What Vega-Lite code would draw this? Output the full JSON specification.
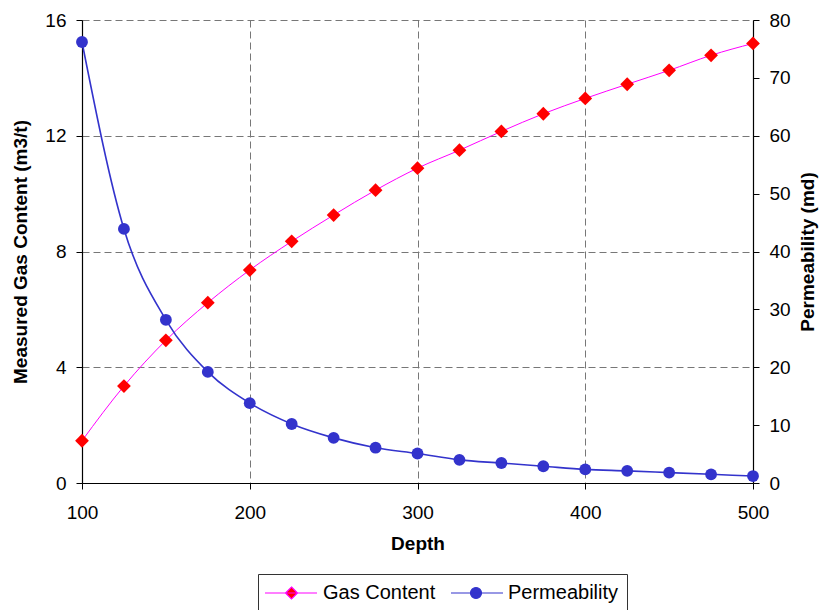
{
  "$schema": "https://vega.github.io/schema/vega-lite/v6.json",
  "width": 671,
  "height": 463,
  "autosize": {"type": "none"},
  "padding": {"left": 82, "top": 20, "right": 69, "bottom": 127},
  "background": "white",
  "config": {
    "view": {"stroke": null},
    "font": "Liberation Sans",
    "axis": {
      "labelFont": "Liberation Sans",
      "labelFontSize": 19,
      "labelColor": "black",
      "labelFlush": false,
      "titleFont": "Liberation Sans",
      "titleFontSize": 19,
      "titleFontWeight": "bold",
      "titleColor": "black",
      "domainColor": "black",
      "domainWidth": 1.2,
      "tickColor": "black",
      "tickSize": 6,
      "gridColor": "#777777",
      "gridDash": [7, 4],
      "gridWidth": 1
    },
    "legend": {
      "labelFont": "Liberation Sans",
      "labelFontSize": 20,
      "labelColor": "black"
    }
  },
  "data": {
    "values": [
      {"Depth": 100, "Gas Content": 1.46, "Permeability": 76.2},
      {"Depth": 125, "Gas Content": 3.35, "Permeability": 43.9},
      {"Depth": 150, "Gas Content": 4.93, "Permeability": 28.2},
      {"Depth": 175, "Gas Content": 6.23, "Permeability": 19.2},
      {"Depth": 200, "Gas Content": 7.36, "Permeability": 13.8},
      {"Depth": 225, "Gas Content": 8.35, "Permeability": 10.2},
      {"Depth": 250, "Gas Content": 9.26, "Permeability": 7.8},
      {"Depth": 275, "Gas Content": 10.12, "Permeability": 6.1},
      {"Depth": 300, "Gas Content": 10.88, "Permeability": 5.1},
      {"Depth": 325, "Gas Content": 11.5, "Permeability": 4.0},
      {"Depth": 350, "Gas Content": 12.15, "Permeability": 3.45},
      {"Depth": 375, "Gas Content": 12.76, "Permeability": 2.9},
      {"Depth": 400, "Gas Content": 13.29, "Permeability": 2.35},
      {"Depth": 425, "Gas Content": 13.78, "Permeability": 2.1},
      {"Depth": 450, "Gas Content": 14.26, "Permeability": 1.8},
      {"Depth": 475, "Gas Content": 14.78, "Permeability": 1.5},
      {"Depth": 500, "Gas Content": 15.19, "Permeability": 1.2}
    ]
  },
  "encoding": {
    "x": {
      "field": "Depth",
      "type": "quantitative",
      "scale": {"domain": [100, 500], "nice": false, "zero": false},
      "axis": {
        "values": [100, 200, 300, 400, 500],
        "title": "Depth",
        "labelPadding": 14,
        "titlePadding": 12,
        "grid": true
      }
    }
  },
  "layer": [
    {
      "encoding": {
        "y": {
          "field": "Gas Content",
          "type": "quantitative",
          "scale": {"domain": [0, 16], "nice": false},
          "axis": {
            "orient": "left",
            "values": [0, 4, 8, 12, 16],
            "title": "Measured Gas Content (m3/t)",
            "labelPadding": 10,
            "titlePadding": 14,
            "grid": true
          }
        }
      },
      "layer": [
        {
          "mark": {"type": "line", "color": "#FF00FF", "strokeWidth": 1, "interpolate": "monotone"}
        },
        {
          "mark": {"type": "point", "shape": "diamond", "filled": true, "color": "#FF0000", "size": 190, "opacity": 1}
        },
        {
          "transform": [
            {"filter": "datum.Depth == 100"},
            {"fold": ["Gas Content", "Permeability"], "as": ["series", "value"]}
          ],
          "mark": {"type": "point", "filled": true, "opacity": 0, "strokeWidth": 1.2},
          "encoding": {
            "fill": {
              "field": "series",
              "type": "nominal",
              "scale": {"domain": ["Gas Content", "Permeability"], "range": ["#FF0000", "#3333CC"]},
              "legend": {
                "title": null,
                "orient": "none",
                "legendX": 176,
                "legendY": 554,
                "direction": "horizontal",
                "strokeColor": "#333333",
                "padding": 8,
                "symbolSize": 400,
                "symbolOpacity": 1,
                "symbolFillOpacity": 1,
                "symbolStrokeWidth": 1.2,
                "labelOffset": 35,
                "columnPadding": 12,
                "encode": {
                  "symbols": {
                    "update": {
                      "fill": {"scale": "fill", "field": "value"},
                      "fillOpacity": {"value": 1}
                    }
                  }
                }
              }
            },
            "stroke": {
              "field": "series",
              "type": "nominal",
              "scale": {"domain": ["Gas Content", "Permeability"], "range": ["#FF00FF", "#3333CC"]}
            },
            "shape": {
              "field": "series",
              "type": "nominal",
              "scale": {
                "domain": ["Gas Content", "Permeability"],
                "range": [
                  "M-1.2,0H4M1.45,-0.6L2.05,0L1.45,0.6L0.85,0Z",
                  "M-1.1,0H4.1M1.95,0A0.55,0.55,0,1,1,0.85,0A0.55,0.55,0,1,1,1.95,0Z"
                ]
              }
            }
          }
        }
      ]
    },
    {
      "encoding": {
        "y": {
          "field": "Permeability",
          "type": "quantitative",
          "scale": {"domain": [0, 80], "nice": false},
          "axis": {
            "orient": "right",
            "values": [0, 10, 20, 30, 40, 50, 60, 70, 80],
            "title": "Permeability (md)",
            "titleAngle": 270,
            "titleBaseline": "top",
            "labelPadding": 10,
            "titlePadding": 8,
            "grid": false
          }
        }
      },
      "layer": [
        {
          "mark": {"type": "line", "color": "#3333CC", "strokeWidth": 1.6, "interpolate": "monotone"}
        },
        {
          "mark": {"type": "point", "shape": "circle", "filled": true, "color": "#3333CC", "size": 140, "opacity": 1}
        }
      ]
    }
  ],
  "resolve": {"scale": {"y": "independent"}}
}
